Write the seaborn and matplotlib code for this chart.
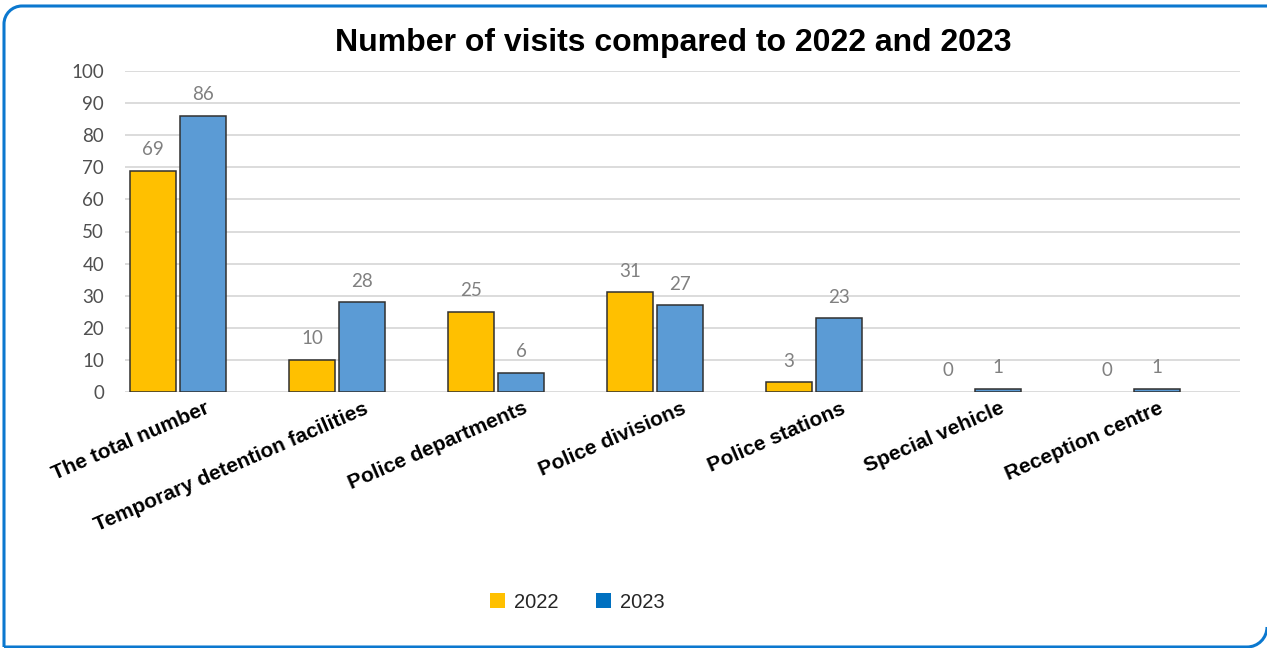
import numpy as np
import pandas as pd
import matplotlib
matplotlib.use("Agg")
import matplotlib.pyplot as plt
from matplotlib.path import Path
from matplotlib.patches import PathPatch, Patch
import seaborn as sns

categories = ["The total number", "Temporary detention facilities", "Police departments",
              "Police divisions", "Police stations", "Special vehicle", "Reception centre"]
years = ["2022", "2023"]
visits_2022 = [69, 10, 25, 31, 3, 0, 0]
visits_2023 = [86, 28, 6, 27, 23, 1, 1]
y_ticks = [0, 10, 20, 30, 40, 50, 60, 70, 80, 90, 100]

bar_colors = ["#FFC000", "#5B9BD5"]
legend_colors = ["#FFC000", "#0070C0"]

df = pd.DataFrame({
    "category": categories * 2,
    "year": [years[0]] * len(categories) + [years[1]] * len(categories),
    "visits": visits_2022 + visits_2023,
})

sns.set_theme(style="white")
plt.rcParams["font.family"] = ["Liberation Sans", "DejaVu Sans"]

W, H = 1267, 648
fig = plt.figure(figsize=(W / 100, H / 100), dpi=100)
fig.patch.set_facecolor("white")

# plot area in pixel terms
left, right, top, bottom = 125, 1240, 71, 392
ax = fig.add_axes([left / W, (H - bottom) / H, (right - left) / W, (bottom - top) / H])

sns.barplot(data=df, x="category", y="visits", hue="year", order=categories,
            hue_order=years, palette=bar_colors, saturation=1, width=0.63, gap=0.08,
            edgecolor="#303030", linewidth=1.1, legend=False, ax=ax, zorder=3)

# empty bars get no outline
for p in ax.patches:
    if p.get_height() == 0:
        p.set_linewidth(0)

ax.set_ylim(0, 100)
ax.set_xlim(-0.333, len(categories) - 1 + 0.68)
ax.set_yticks(y_ticks)
ax.set_yticklabels([str(t) for t in y_ticks], family="Lato", fontsize=13.5, color="#505050")
ax.tick_params(axis="y", length=0, pad=15)
ax.tick_params(axis="x", length=0, pad=5)

ax.set_xticks(np.arange(len(categories)) + 0.167)
ax.set_xticklabels(categories, rotation=23.5, ha="right", va="top",
                   rotation_mode="anchor", fontsize=15, fontweight="bold", color="black")
ax.set_xlabel("")
ax.set_ylabel("")

for t in y_ticks:
    ax.axhline(t, color="#D9D9D9", lw=1.3, zorder=1)
for s in ax.spines.values():
    s.set_visible(False)
ax.grid(False)

for cont in ax.containers:
    ax.bar_label(cont, labels=[f"{v:.0f}" for v in cont.datavalues], padding=9,
                 family="Lato", fontsize=13.5, color="#808080")

fig.text(673 / W, (H - 43) / H, "Number of visits compared to 2022 and 2023",
         ha="center", va="center", fontsize=23, fontweight="bold", color="black")

handles = [Patch(facecolor=c, edgecolor="none", label=y) for c, y in zip(legend_colors, years)]
fig.legend(handles=handles, loc="center", bbox_to_anchor=(577 / W, (H - 602) / H),
           ncol=2, frameon=False, fontsize=14.5, handlelength=0.75, handleheight=0.75,
           handletextpad=0.45, columnspacing=1.85)

# frame: top-left and bottom-right corners curved, right edge at the image border
over = fig.add_axes([0, 0, 1, 1], facecolor="none")
over.set_xlim(0, W)
over.set_ylim(H, 0)
over.axis("off")
x0, y0, x1, y1 = 4, 6, 1267, 647
r1, r2 = 18, 20
k = 0.5523
upper = Path(
    [(x0, y1), (x0, y0 + r1),
     (x0, y0 + r1 - k * r1), (x0 + r1 - k * r1, y0), (x0 + r1, y0),
     (x1 + 10, y0)],
    [Path.MOVETO, Path.LINETO, Path.CURVE4, Path.CURVE4, Path.CURVE4, Path.LINETO])
lower = Path(
    [(x1, y1 - r2),
     (x1, y1 - r2 + k * r2), (x1 - r2 + k * r2, y1), (x1 - r2, y1),
     (x0, y1)],
    [Path.MOVETO, Path.CURVE4, Path.CURVE4, Path.CURVE4, Path.LINETO])
for pth in (upper, lower):
    over.add_patch(PathPatch(pth, facecolor="none", edgecolor="#0B78CF",
                             lw=2.2, capstyle="butt"))

fig.savefig("out.png", dpi=100, facecolor="white")
